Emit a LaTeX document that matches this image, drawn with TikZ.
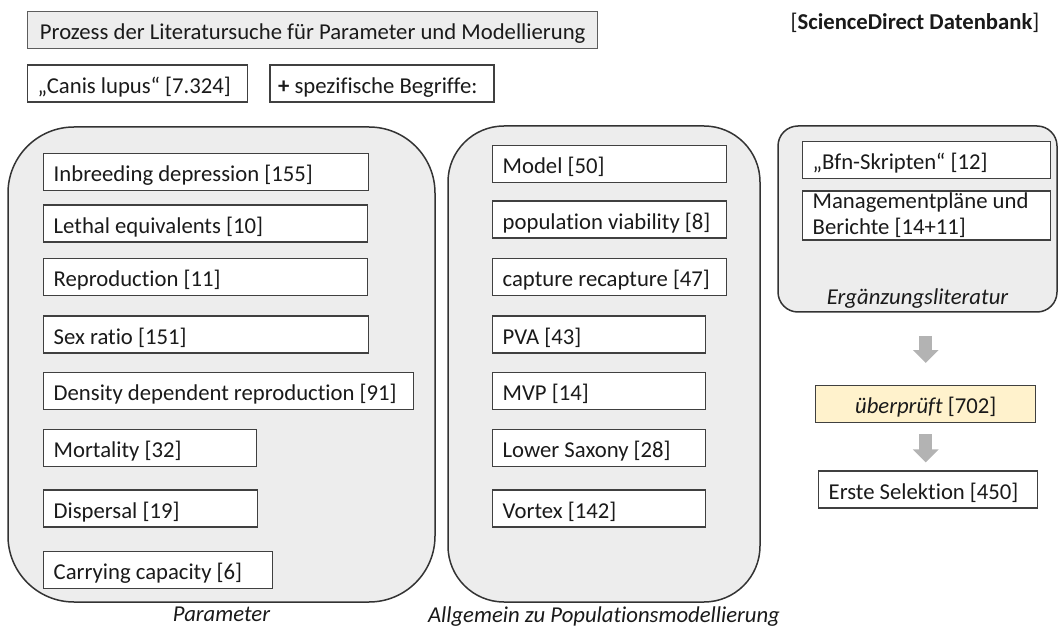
\documentclass[tikz,border=0pt]{standalone}
\usepackage{fontspec}
\setmainfont{Carlito}[Ligatures=NoCommon]
\usepackage{xcolor}
\usepackage{tikz}
\usetikzlibrary{arrows.meta, positioning, fit, backgrounds}
\definecolor{rahmen}{HTML}{404040}
\definecolor{gruppenrand}{HTML}{333333}
\definecolor{hellgrau}{HTML}{EDEDED}
\definecolor{gelbton}{HTML}{FFF2CC}
\definecolor{pfeilgrau}{HTML}{B3B3B3}
\definecolor{schrift}{HTML}{1A1A1A}
\newcommand{\grundschrift}{\fontsize{22.7pt}{26pt}\selectfont}
\tikzset{
  kasten/.style={rectangle, draw=rahmen, line width=1.4pt, fill=white,
    text=schrift, font=\grundschrift, anchor=north west, align=flush left,
    inner xsep=10pt, inner ysep=3pt, minimum height=37pt},
  begriff/.style={kasten, text height=25pt, text depth=5.5pt},
  kopf/.style={begriff, fill=hellgrau, draw=rahmen!85, align=center},
  gruppe/.style={rectangle, draw=gruppenrand, line width=1.5pt, fill=hellgrau,
    inner sep=0pt},
  gruppentitel/.style={font=\grundschrift\itshape, text=schrift, inner sep=2pt},
  blockpfeil/.style={-{Triangle[width=25pt, length=13pt]}, line width=13pt,
    color=pfeilgrau}
}

\begin{document}
\begin{tikzpicture}[x=1pt, y=-1pt]
  \useasboundingbox (0,0) rectangle (1060,628);

  % Kopfzeile
  \node[kopf, minimum width=570pt] (titel) at (27,11)
    {Prozess der Literatursuche für Parameter und Modellierung};
  \node[begriff, text width=200pt, below=15pt of titel.south west, anchor=north west]
    (canis) {„Canis lupus“ [7.324]};
  \node[begriff, text width=208pt, inner xsep=8pt, right=21pt of canis.north east,
        anchor=north west] (spez) {\textbf{+} spezifische Begriffe:};
  \node[font=\grundschrift, text=schrift] (quelle) at (915,23)
    {[\textbf{ScienceDirect Datenbank}]};

  % Parameter
  \node[begriff, text width=305pt] (inbreed) at (43,153) {Inbreeding depression [155]};
  \node[begriff, text width=304pt, below=13pt of inbreed.south west, anchor=north west]
    (lethal) {Lethal equivalents [10]};
  \node[begriff, text width=304pt, below=15pt of lethal.south west, anchor=north west]
    (repro) {Reproduction [11]};
  \node[begriff, text width=305pt, below=19pt of repro.south west, anchor=north west]
    (sexratio) {Sex ratio [151]};
  \node[begriff, text width=350pt, below=18pt of sexratio.south west, anchor=north west]
    (dichte) {Density dependent reproduction [91]};
  \node[begriff, text width=193pt, below=19pt of dichte.south west, anchor=north west]
    (mort) {Mortality [32]};
  \node[begriff, text width=194pt, below=22pt of mort.south west, anchor=north west]
    (disp) {Dispersal [19]};
  \node[begriff, text width=209pt, below=23pt of disp.south west, anchor=north west]
    (kapaz) {Carrying capacity [6]};
  \coordinate (par-nw) at (8,127);
  \coordinate (par-se) at (435,602);
  \begin{scope}[on background layer]
    \node[gruppe, rounded corners=66pt, fit=(par-nw)(par-se),
          label={[gruppentitel, yshift=-2pt]below:Parameter}] (param) {};
  \end{scope}

  % Populationsmodellierung
  \node[begriff, text width=214pt] (model) at (492,145) {Model [50]};
  \node[begriff, text width=214pt, below=17pt of model.south west, anchor=north west]
    (viab) {population viability [8]};
  \node[begriff, text width=214pt, below=19pt of viab.south west, anchor=north west]
    (capt) {capture recapture [47]};
  \node[begriff, text width=193pt, below=19pt of capt.south west, anchor=north west]
    (pva) {PVA [43]};
  \node[begriff, text width=193pt, below=18pt of pva.south west, anchor=north west]
    (mvp) {MVP [14]};
  \node[begriff, text width=193pt, below=19pt of mvp.south west, anchor=north west]
    (saxony) {Lower Saxony [28]};
  \node[begriff, text width=193pt, below=22pt of saxony.south west, anchor=north west]
    (vortex) {Vortex [142]};
  \coordinate (pop-nw) at (448,126);
  \coordinate (pop-se) at (760,602);
  \begin{scope}[on background layer]
    \node[gruppe, rounded corners=56pt, fit=(pop-nw)(pop-se),
          label={[gruppentitel, yshift=-2pt]below:Allgemein zu Populationsmodellierung}]
      (popmod) {};
  \end{scope}

  % Ergaenzungsliteratur
  \node[begriff, text width=228pt] (bfn) at (802,141) {„Bfn-Skripten“ [12]};
  \node[kasten, text width=228pt, inner ysep=1pt, minimum height=49pt,
        below=11pt of bfn.south west, anchor=north west]
    (mgmt) {Managementpläne und\\Berichte [14+11]};
  \coordinate (erg-nw) at (778,126);
  \coordinate (erg-se) at (1057,312);
  \begin{scope}[on background layer]
    \node[gruppe, rounded corners=20pt, fit=(erg-nw)(erg-se)] (erg) {};
  \end{scope}
  \node[gruppentitel, above=2pt of erg.south] (ergtitel) {Ergänzungsliteratur};

  % Auswahl
  \node[begriff, fill=gelbton, align=center, minimum width=220pt] (geprueft) at (815,385)
    {\textit{überprüft} [702]};
  \node[begriff, text width=199pt, below=47pt of geprueft.south west, anchor=north west,
        xshift=3pt] (selektion) {Erste Selektion [450]};

  \draw[blockpfeil, shorten <=23pt, shorten >=22pt]
    (erg.south -| geprueft.north) -- (geprueft.north);
  \draw[blockpfeil, shorten <=11pt, shorten >=8pt]
    (geprueft.south) -- (geprueft.south |- selektion.north);
\end{tikzpicture}
\end{document}
